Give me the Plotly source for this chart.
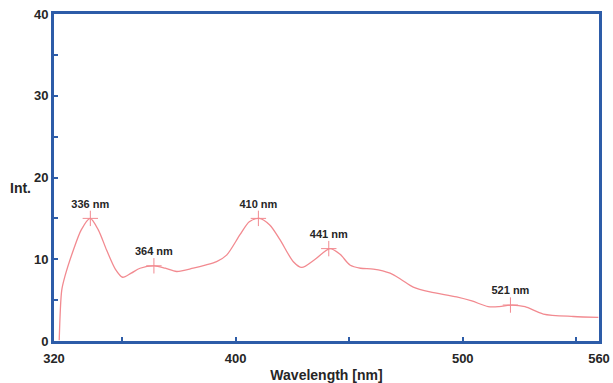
import plotly.graph_objects as go

# Emission spectrum samples (wavelength in nm, intensity in arbitrary units)
wavelength = [322.3, 323.4, 324.8, 328.5, 332.0, 335.9, 339.5, 343.2, 347.0, 350.2,
              354.0, 357.9, 364.2, 369.0, 374.0, 381.3, 387.0, 391.6, 396.0, 401.9,
              406.0, 410.3, 415.0, 419.5, 425.4, 429.1, 435.0, 441.5, 446.0, 450.3,
              455.0, 460.6, 468.0, 473.0, 478.2, 485.6, 497.3, 504.0, 511.2, 516.0,
              521.8, 527.4, 535.5, 548.7, 559.7]
intensity = [0.1, 6.2, 7.9, 11.1, 13.6, 15.0, 13.6, 11.1, 8.8, 7.8,
             8.3, 8.9, 9.2, 8.9, 8.5, 8.9, 9.3, 9.7, 10.5, 13.0,
             14.6, 15.0, 14.2, 12.4, 9.7, 9.0, 10.0, 11.3, 10.6, 9.3,
             8.9, 8.8, 8.3, 7.5, 6.6, 6.0, 5.4, 4.9, 4.2, 4.2,
             4.4, 4.2, 3.3, 3.0, 2.9]

# Labelled peak maxima
peak_wl = [336, 364, 410, 441, 521]
peak_int = [15.0, 9.2, 15.0, 11.3, 4.4]
peak_text = ["336 nm", "364 nm", "410 nm", "441 nm", "521 nm"]

# Axis ticks
x_ticks = [320, 400, 500, 560]
x_minor = [350, 450, 550]
y_ticks = [0, 10, 20, 30, 40]
y_minor = [5, 15, 25, 35]

line_color = "#f28a90"
axis_color = "#2d5ca8"
text_color = "#262626"
font_family = "Liberation Sans, Arial, sans-serif"

fig = go.Figure()

fig.add_trace(go.Scatter(
    x=wavelength, y=intensity, mode="lines",
    line=dict(color=line_color, width=1.3, shape="spline", smoothing=0.8),
    hoverinfo="skip", showlegend=False,
))

fig.add_trace(go.Scatter(
    x=peak_wl, y=peak_int, mode="markers+text",
    marker=dict(symbol="cross-thin", size=11, line=dict(color=line_color, width=1)),
    text=peak_text, textposition="top center",
    textfont=dict(family=font_family, size=11, color=text_color, weight="bold"),
    showlegend=False,
))

axis_common = dict(
    showline=True, linecolor=axis_color, linewidth=3, mirror=True,
    ticks="inside", tickcolor=axis_color, ticklen=4, tickwidth=2,
    showgrid=False, zeroline=False, automargin=False,
    tickfont=dict(family=font_family, size=13, color=text_color, weight="bold"),
)

fig.update_xaxes(
    range=[320, 560], tickmode="array", tickvals=x_ticks, ticklabelstandoff=3,
    minor=dict(tickmode="array", tickvals=x_minor, ticks="inside",
               ticklen=4, tickwidth=2, tickcolor=axis_color),
    title=dict(text="Wavelength [nm]", standoff=8,
               font=dict(family=font_family, size=14, color=text_color, weight="bold")),
    **axis_common,
)
fig.update_yaxes(
    range=[0, 40], tickmode="array", tickvals=y_ticks,
    minor=dict(tickmode="array", tickvals=y_minor, ticks="inside",
               ticklen=4, tickwidth=2, tickcolor=axis_color),
    **axis_common,
)

fig.add_annotation(
    text="Int.", xref="paper", yref="y", x=-0.061, y=18.7,
    showarrow=False, xanchor="center", yanchor="middle",
    font=dict(family=font_family, size=14, color=text_color, weight="bold"),
)

fig.update_layout(
    width=613, height=383,
    margin=dict(l=54, r=14, t=14, b=42),
    paper_bgcolor="white", plot_bgcolor="white",
)

fig.write_html("out.html")
